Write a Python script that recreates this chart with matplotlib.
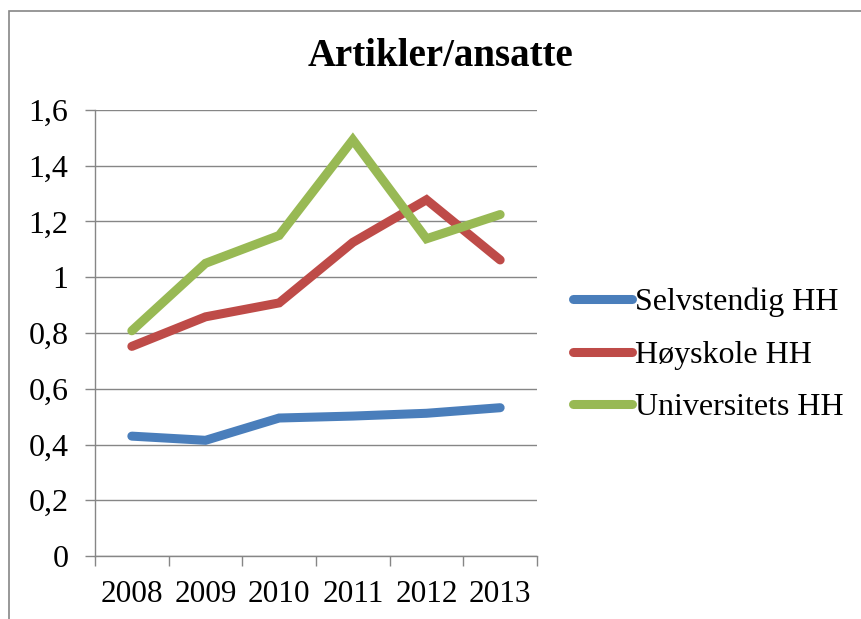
import numpy as np
import matplotlib
matplotlib.use("Agg")
import matplotlib.pyplot as plt
from matplotlib.patches import Rectangle
from matplotlib.ticker import FixedLocator

plt.rcParams['font.family'] = ['Liberation Serif', 'DejaVu Serif']

years = ['2008', '2009', '2010', '2011', '2012', '2013']
selvstendig = [0.43, 0.415, 0.495, 0.502, 0.512, 0.532]
hoyskole = [0.752, 0.858, 0.908, 1.125, 1.278, 1.062]
universitets = [0.808, 1.05, 1.15, 1.493, 1.138, 1.225]
labels = ['Selvstendig HH', 'Høyskole HH', 'Universitets HH']
colors = ['#4A7EBB', '#BE4B48', '#98B954']

grey = '#868686'

fig = plt.figure(figsize=(8.61, 6.19), dpi=100)
# outer chart border (runs off the right/bottom edge in the original)
fig.patches.append(Rectangle((9 / 861, -0.1), 1.2, 1.1 - 11 / 619,
                             transform=fig.transFigure, fill=False,
                             edgecolor=grey, linewidth=1.2))

ax = fig.add_axes([95 / 861, 63 / 619, 442 / 861, 446 / 619])
x = np.arange(len(years))
for y, lab, c in zip([selvstendig, hoyskole, universitets], labels, colors):
    ax.plot(x, y, color=c, linewidth=6.5, solid_capstyle='round',
            solid_joinstyle='miter', label=lab)

ax.set_xlim(-0.5, len(years) - 0.5)
ax.set_ylim(0, 1.6)
yt = np.arange(0, 1.61, 0.2)
ax.set_yticks(yt)
ax.set_yticklabels([('%g' % round(v, 1)).replace('.', ',') for v in yt])
ax.set_xticks(x)
ax.set_xticklabels(years)
ax.xaxis.set_minor_locator(FixedLocator(np.arange(-0.5, len(years), 1.0)))
ax.tick_params(axis='x', which='major', length=0, pad=17, labelsize=22.5)
ax.tick_params(axis='x', which='minor', length=7, width=1, color=grey)
ax.tick_params(axis='y', length=7, width=1, color=grey, pad=12, labelsize=23)
ax.grid(axis='y', color=grey, linewidth=1)
ax.set_axisbelow(True)
for s in ['top', 'right']:
    ax.spines[s].set_visible(False)
for s in ['left', 'bottom']:
    ax.spines[s].set_color(grey)
    ax.spines[s].set_linewidth(1)

fig.text(441 / 861, 1 - 57 / 619, 'Artikler/ansatte', ha='center', va='center',
         fontsize=28, fontweight='bold')

fig.legend(loc='center left', bbox_to_anchor=(560 / 861, 1 - 355 / 619),
           frameon=False, fontsize=23, handlelength=1.85, handletextpad=0.1,
           labelspacing=0.72, borderaxespad=0)

fig.savefig('out.png', dpi=100)
